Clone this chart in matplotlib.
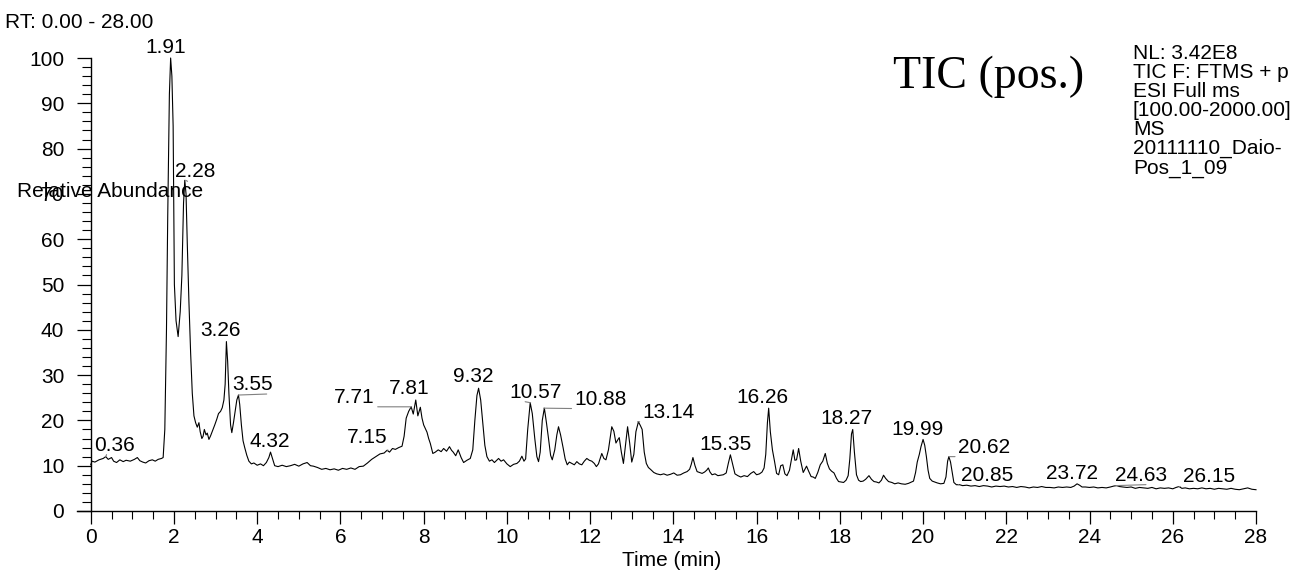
import numpy as np
import matplotlib
matplotlib.use("Agg")
import matplotlib.pyplot as plt
from matplotlib.ticker import MultipleLocator

plt.rcParams['font.family'] = ['Liberation Sans', 'DejaVu Sans']

# total ion chromatogram (time in min, relative abundance in %)
rt = [
    0.00, 0.03, 0.10, 0.20, 0.30, 0.36, 0.42, 0.50, 0.55, 0.62, 0.70, 0.78, 0.85, 0.95, 1.05, 1.12,
    1.18, 1.25, 1.32, 1.40, 1.48, 1.55, 1.62, 1.70, 1.74, 1.78, 1.82, 1.85, 1.89, 1.92, 1.95, 1.98,
    2.01, 2.05, 2.10, 2.15, 2.19, 2.23, 2.26, 2.29, 2.32, 2.36, 2.40, 2.44, 2.48, 2.52, 2.56, 2.60,
    2.63, 2.67, 2.70, 2.73, 2.77, 2.80, 2.84, 2.88, 2.93, 2.98, 3.03, 3.07, 3.12, 3.16, 3.20, 3.23,
    3.26, 3.29, 3.32, 3.36, 3.39, 3.43, 3.47, 3.51, 3.55, 3.58, 3.62, 3.66, 3.70, 3.75, 3.80, 3.86,
    3.92, 4.00, 4.08, 4.15, 4.22, 4.28, 4.32, 4.37, 4.42, 4.50, 4.60, 4.70, 4.80, 4.90, 5.00, 5.10,
    5.20, 5.28, 5.35, 5.45, 5.55, 5.65, 5.75, 5.85, 5.95, 6.05, 6.15, 6.25, 6.35, 6.45, 6.55, 6.65,
    6.75, 6.85, 6.95, 7.05, 7.12, 7.18, 7.25, 7.32, 7.40, 7.48, 7.53, 7.58, 7.64, 7.70, 7.75, 7.81,
    7.86, 7.92, 7.96, 8.00, 8.04, 8.08, 8.12, 8.16, 8.22, 8.28, 8.35, 8.42, 8.48, 8.55, 8.62, 8.67,
    8.71, 8.77, 8.83, 8.90, 8.96, 9.04, 9.12, 9.18, 9.23, 9.28, 9.32, 9.37, 9.42, 9.47, 9.52, 9.58,
    9.64, 9.70, 9.80, 9.86, 9.92, 10.00, 10.08, 10.16, 10.24, 10.30, 10.36, 10.41, 10.45, 10.50, 10.56, 10.61,
    10.67, 10.72, 10.76, 10.80, 10.85, 10.90, 10.95, 11.00, 11.05, 11.09, 11.15, 11.20, 11.24, 11.29, 11.35, 11.40,
    11.45, 11.50, 11.56, 11.62, 11.68, 11.74, 11.80, 11.86, 11.92, 11.98, 12.04, 12.10, 12.15, 12.20, 12.28, 12.33,
    12.38, 12.44, 12.48, 12.52, 12.57, 12.62, 12.67, 12.70, 12.75, 12.80, 12.85, 12.90, 12.95, 13.00, 13.05, 13.10,
    13.16, 13.21, 13.25, 13.30, 13.35, 13.40, 13.45, 13.53, 13.60, 13.69, 13.77, 13.85, 13.93, 14.01, 14.09, 14.17,
    14.25, 14.33, 14.39, 14.43, 14.47, 14.52, 14.57, 14.63, 14.69, 14.75, 14.80, 14.84, 14.88, 14.93, 15.00, 15.07,
    15.13, 15.20, 15.27, 15.32, 15.37, 15.42, 15.48, 15.55, 15.62, 15.70, 15.78, 15.86, 15.93, 16.00, 16.07, 16.13,
    16.18, 16.22, 16.26, 16.29, 16.33, 16.38, 16.43, 16.48, 16.53, 16.58, 16.63, 16.68, 16.73, 16.79, 16.84, 16.88,
    16.92, 16.96, 17.01, 17.06, 17.12, 17.16, 17.20, 17.25, 17.31, 17.36, 17.41, 17.47, 17.53, 17.59, 17.65, 17.70,
    17.75, 17.80, 17.86, 17.92, 17.97, 18.03, 18.09, 18.15, 18.20, 18.24, 18.28, 18.31, 18.35, 18.40, 18.45, 18.50,
    18.56, 18.62, 18.70, 18.76, 18.82, 18.88, 18.94, 19.00, 19.05, 19.10, 19.17, 19.25, 19.32, 19.40, 19.48, 19.57,
    19.65, 19.72, 19.77, 19.82, 19.86, 19.91, 19.95, 20.00, 20.04, 20.08, 20.12, 20.16, 20.22, 20.28, 20.34, 20.42,
    20.50, 20.55, 20.59, 20.62, 20.66, 20.70, 20.74, 20.80, 20.88, 20.95, 21.05, 21.15, 21.25, 21.35, 21.45, 21.55,
    21.65, 21.75, 21.85, 21.95, 22.05, 22.15, 22.25, 22.35, 22.45, 22.55, 22.65, 22.75, 22.85, 22.95, 23.05, 23.15,
    23.25, 23.35, 23.45, 23.55, 23.63, 23.70, 23.76, 23.82, 23.90, 24.00, 24.10, 24.20, 24.30, 24.40, 24.50, 24.58,
    24.65, 24.72, 24.80, 24.90, 25.00, 25.10, 25.20, 25.30, 25.40, 25.50, 25.60, 25.70, 25.80, 25.90, 26.00, 26.08,
    26.15, 26.22, 26.30, 26.40, 26.50, 26.60, 26.70, 26.80, 26.90, 27.00, 27.10, 27.20, 27.30, 27.40, 27.50, 27.60,
    27.70, 27.80, 27.90, 28.00,
]
abundance = [
    10.2, 11.0, 10.8, 11.3, 11.6, 12.0, 11.4, 11.8, 11.0, 10.7, 11.3, 10.9, 11.2, 11.0, 11.4, 11.8,
    11.1, 10.8, 10.6, 11.1, 11.3, 11.0, 11.4, 11.6, 11.8, 18.0, 40.0, 65.0, 92.0, 100.0, 96.0, 85.0,
    50.0, 42.0, 38.5, 44.0, 52.0, 68.0, 73.0, 70.0, 59.0, 46.0, 35.0, 26.0, 21.0, 19.5, 18.5, 19.5,
    17.5, 16.0, 16.5, 18.0, 16.8, 17.2, 15.8, 16.6, 17.8, 19.0, 20.3, 21.5, 22.0, 22.8, 24.5, 28.0,
    37.4, 33.0, 26.0, 19.0, 17.3, 19.5, 22.0, 24.5, 25.6, 23.5, 19.0, 15.5, 14.0, 12.3, 11.0, 10.4,
    10.6, 10.1, 10.4, 10.0, 10.7, 11.8, 13.0, 11.5, 10.0, 9.8, 10.1, 9.8, 10.0, 10.3, 9.9, 10.4,
    10.7, 10.0, 9.9, 9.6, 9.2, 9.4, 9.1, 9.3, 9.0, 9.4, 9.2, 9.5, 9.2, 9.8, 9.9, 10.6,
    11.4, 12.0, 12.6, 12.8, 13.4, 13.0, 13.8, 13.6, 14.0, 14.3, 16.5, 20.5, 22.0, 23.0, 21.4, 24.5,
    21.0, 22.9, 20.5, 19.0, 18.2, 17.4, 16.0, 14.9, 12.7, 13.0, 13.5, 13.1, 13.8, 13.2, 14.2, 13.4,
    13.0, 12.2, 13.5, 11.8, 10.7, 11.2, 11.6, 13.5, 20.0, 25.5, 27.1, 24.5, 19.5, 14.5, 12.0, 11.0,
    11.3, 10.7, 11.6, 11.0, 11.3, 10.4, 9.8, 10.3, 10.5, 11.0, 12.1, 11.0, 11.5, 18.0, 23.9, 21.5,
    16.0, 12.0, 10.9, 13.0, 20.0, 22.7, 19.5, 16.0, 12.3, 11.3, 13.5, 16.8, 18.6, 16.8, 14.0, 11.5,
    10.2, 10.8, 10.5, 10.2, 10.9, 10.4, 10.2, 11.0, 11.6, 11.2, 11.0, 10.5, 9.8, 10.4, 12.7, 11.6,
    11.3, 13.5, 16.0, 18.6, 17.6, 15.0, 15.8, 16.2, 13.0, 10.5, 14.5, 18.6, 15.0, 10.8, 12.5, 17.5,
    19.7, 18.8, 18.0, 13.0, 10.5, 9.6, 9.2, 8.5, 8.2, 8.0, 8.2, 7.9, 8.1, 8.4, 7.9, 8.0,
    8.4, 8.7, 9.2, 10.3, 11.8, 10.0, 8.7, 8.5, 8.3, 8.6, 9.0, 9.5, 8.6, 8.0, 8.2, 7.8,
    7.9, 8.0, 8.4, 10.5, 12.4, 10.5, 8.2, 7.8, 7.5, 7.8, 7.6, 8.3, 8.7, 8.0, 8.2, 8.6,
    9.5, 12.5, 19.5, 22.7, 17.5, 13.5, 11.0, 8.3, 8.0, 10.0, 10.2, 8.2, 7.8, 9.0, 11.5, 13.5,
    11.2, 11.3, 13.8, 11.0, 8.5, 9.2, 9.9, 8.8, 7.6, 7.5, 7.2, 8.5, 10.2, 11.0, 12.7, 10.5,
    9.3, 8.8, 8.4, 7.2, 6.5, 6.4, 6.3, 6.8, 7.8, 11.5, 17.0, 18.0, 13.0, 8.0, 6.8, 6.5,
    6.6, 7.0, 7.8, 7.0, 6.5, 6.4, 6.2, 6.8, 7.9, 7.2, 6.5, 6.3, 6.0, 6.2, 6.0, 5.9,
    6.1, 6.4, 6.6, 8.5, 10.8, 12.5, 14.2, 15.8, 14.5, 12.0, 9.0, 7.2, 6.6, 6.4, 6.2, 6.0,
    6.1, 7.5, 11.0, 12.0, 10.8, 8.5, 6.3, 5.8, 5.8, 5.6, 5.7, 5.5, 5.6, 5.4, 5.6, 5.5,
    5.3, 5.5, 5.4, 5.5, 5.3, 5.4, 5.2, 5.4, 5.3, 5.1, 5.3, 5.2, 5.4, 5.2, 5.2, 5.1,
    5.3, 5.2, 5.3, 5.2, 5.5, 6.0, 5.7, 5.3, 5.3, 5.2, 5.3, 5.1, 5.2, 5.1, 5.3, 5.5,
    5.6, 5.4, 5.3, 5.2, 5.3, 5.0, 5.2, 5.1, 5.0, 5.2, 4.9, 5.1, 5.0, 5.1, 4.9, 5.2,
    5.4, 5.0, 5.1, 4.9, 5.0, 4.9, 5.1, 4.9, 5.0, 4.8, 5.0, 4.9, 4.8, 5.0, 4.8, 4.7,
    4.9, 5.1, 4.8, 4.7,
]

# labelled peaks (retention time in min)
peak_times = [0.36, 1.91, 2.28, 3.26, 3.55, 4.32, 7.15, 7.71, 7.81, 9.32, 10.57, 10.88,
              13.14, 15.35, 16.26, 18.27, 19.99, 20.62, 20.85, 23.72, 24.63, 26.15]
# label offset from the peak top (pixels) and where a leader line meets the label (None = no leader)
label_offsets = [(9, 6), (-5, 5), (10, 3), (-6, 6), (14, 5), (-1, 5), (-21, 7), (-57, 4), (-7, 6),
                 (-5, 6), (5, 5), (57, 3), (31, 4), (-4, 5), (-5, 5), (-5, 5), (-5, 4), (35, 4),
                 (29, 4), (-6, 5), (25, 5), (30, 5)]
leader_pos = [(0.3, 0), None, (0.3, 0), None, (0.85, 0), None, (0.7, 0), (0.6, 0), None,
              None, (0.3, 0), (0.95, 0), (0.65, 0), None, None, None, None, (1.0, 0),
              (1.0, 0), None, (0.6, 0), (0.6, 0)]

info_lines = ["NL: 3.42E8", "TIC F: FTMS + p", "ESI Full ms", "[100.00-2000.00]",
              "MS", "20111110_Daio-", "Pos_1_09"]

W, H = 1292, 573
fig = plt.figure(figsize=(W / 100, H / 100), dpi=100)
ax = fig.add_axes([77 / W, 1 - 511 / H, (1256 - 77) / W, (511 - 58) / H])

t = np.array(rt)
a = np.array(abundance)
ax.plot(t, a, color='black', lw=0.8, clip_on=False)

ax.set_xlim(-0.33, 28.0)
ax.set_ylim(0, 100)
ax.spines['left'].set_position(('data', 0))
ax.spines['top'].set_visible(False)
ax.spines['right'].set_visible(False)
for s in ('left', 'bottom'):
    ax.spines[s].set_linewidth(1.0)

ax.xaxis.set_major_locator(MultipleLocator(2))
ax.xaxis.set_minor_locator(MultipleLocator(0.5))
ax.yaxis.set_major_locator(MultipleLocator(10))
ax.yaxis.set_minor_locator(MultipleLocator(2))
ax.tick_params(axis='x', which='major', direction='out', length=9.5, width=0.9, pad=3, labelsize=15)
ax.tick_params(axis='x', which='minor', direction='out', length=5.5, width=0.8)
ax.tick_params(axis='y', which='major', direction='out', length=10, width=0.9, pad=9, labelsize=15)
ax.tick_params(axis='y', which='minor', direction='out', length=6.5, width=0.8)

for pt, off, rel in zip(peak_times, label_offsets, leader_pos):
    near = np.abs(t - pt) <= 0.06
    top = a[near].max()
    arrow = None
    if rel is not None:
        arrow = dict(arrowstyle='-', color='0.5', lw=0.8, shrinkA=0, shrinkB=0, relpos=rel)
    ax.annotate(f"{pt:.2f}", xy=(pt, top), xytext=off, textcoords='offset pixels',
                ha='center', va='baseline', fontsize=15, arrowprops=arrow,
                annotation_clip=False)

fig.text(5 / W, 1 - 28 / H, "RT: 0.00 - 28.00", fontsize=15, ha='left', va='baseline')
fig.text(17 / W, 1 - 197 / H, "Relative Abundance", fontsize=15, ha='left', va='baseline')
fig.text(672 / W, 1 - 566 / H, "Time (min)", fontsize=15, ha='center', va='baseline')
fig.text(893 / W, 1 - 88 / H, "TIC (pos.)", fontsize=33, family='Liberation Serif',
         ha='left', va='baseline')
fig.text(1133 / W, 1 - 44 / H, "\n".join(info_lines), fontsize=15, ha='left', va='top',
         linespacing=1.0)

fig.savefig("out.png", dpi=100)
